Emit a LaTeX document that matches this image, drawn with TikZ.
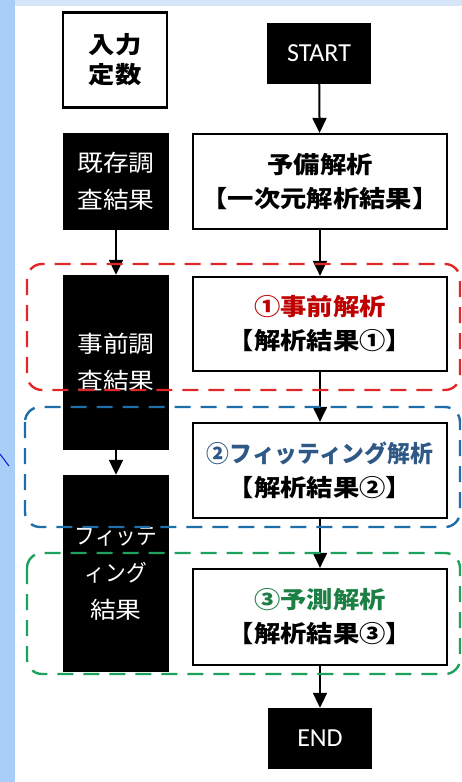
\documentclass[tikz,border=0pt]{standalone}
\usepackage{fontspec}
\newfontfamily\jp[FakeStretch=1.12]{Noto Sans CJK JP}
\newfontfamily\jpn[FakeStretch=0.97]{Noto Sans CJK JP}
\newfontfamily\jpk[FakeStretch=0.9]{Noto Sans CJK JP}
\newfontfamily\lat{Carlito}
\usetikzlibrary{arrows.meta}
\definecolor{leftblue}{RGB}{168,206,247}
\definecolor{topblue}{RGB}{214,230,248}
\definecolor{titlered}{RGB}{192,0,0}
\definecolor{titleblue}{RGB}{46,88,134}
\definecolor{titlegreen}{RGB}{28,128,68}
\definecolor{grpred}{RGB}{225,40,40}
\definecolor{grpblue}{RGB}{30,110,170}
\definecolor{grpgreen}{RGB}{30,160,95}
\definecolor{markblue}{RGB}{10,20,220}
\begin{document}
\begin{tikzpicture}[x=1pt,y=-1pt,
  whitebox/.style={draw=black, fill=white, line width=2.2pt, inner sep=0pt, align=center,
    minimum width=254pt, minimum height=95pt, font=\jp\bfseries\fontsize{23.5}{34}\selectfont},
  inbox/.style={draw=black, fill=white, line width=2.2pt, inner sep=0pt, align=center,
    minimum width=104pt, minimum height=95pt, font=\jp\bfseries\fontsize{23.5}{30}\selectfont},
  blackbox/.style={fill=black, text=white, inner sep=0pt, align=center,
    minimum width=106pt, font=\jp\fontsize{23}{37}\selectfont},
  termbox/.style={fill=black, text=white, inner sep=0pt, align=center,
    minimum width=104pt, minimum height=61pt, font=\lat\fontsize{26}{30}\selectfont},
  flow/.style={line width=2pt, -{Triangle[width=14pt,length=15pt]}},
  group/.style={line width=2.4pt, rounded corners=15pt, dash pattern=on 16pt off 10pt}]
\useasboundingbox (0,0) rectangle (462,782);
\fill[leftblue] (0,0) rectangle (462,782);
\fill[topblue] (15,0) rectangle (462,6);
\fill[white] (15,6) rectangle (462,782);
\draw[markblue, line width=1pt] (0,454) -- (9,466);

% nodes
\node[inbox] (input) at (115,60) {入力\\定数};
\node[termbox] (start) at (319,53) {START};
\node[whitebox] (pre) at (320,181.5) {予備解析\\【一次元解析結果】};
\node[blackbox, minimum height=97pt] (kizon) at (116,181.5) {既存調\\査結果};
\node[whitebox, minimum height=94pt] (a1) at (320,324) {\textcolor{titlered}{①事前解析}\\【解析結果①】};
\node[blackbox, minimum height=175pt] (jizen) at (116,362.5) {事前調\\査結果};
\node[whitebox] (a2) at (320,470.5) {\textcolor{titleblue}{\jpn\bfseries ②フィッティング解析}\\【解析結果②】};
\node[blackbox, minimum height=197pt] (fit) at (116,573.5) {{\jpk フィッテ}\\{\jpk ィング}\\結果};
\node[whitebox, minimum height=96pt] (a3) at (320,617) {\textcolor{titlegreen}{③予測解析}\\【解析結果③】};
\node[termbox] (end) at (320,738.5) {END};

% connectors
\draw[flow] (start) -- (pre);
\draw[flow] (pre) -- (a1);
\draw[flow] (a1) -- (a2);
\draw[flow] (a2) -- (a3);
\draw[flow] (a3) -- (end);
\draw[flow] (kizon) -- (jizen);
\draw[flow] (jizen) -- (fit);

% groups
\draw[group, grpred] (27,264) rectangle (460,390);
\draw[group, grpblue] (25,407) rectangle (460,527);
\draw[group, grpgreen] (27,553) rectangle (460,674);
\end{tikzpicture}
\end{document}
